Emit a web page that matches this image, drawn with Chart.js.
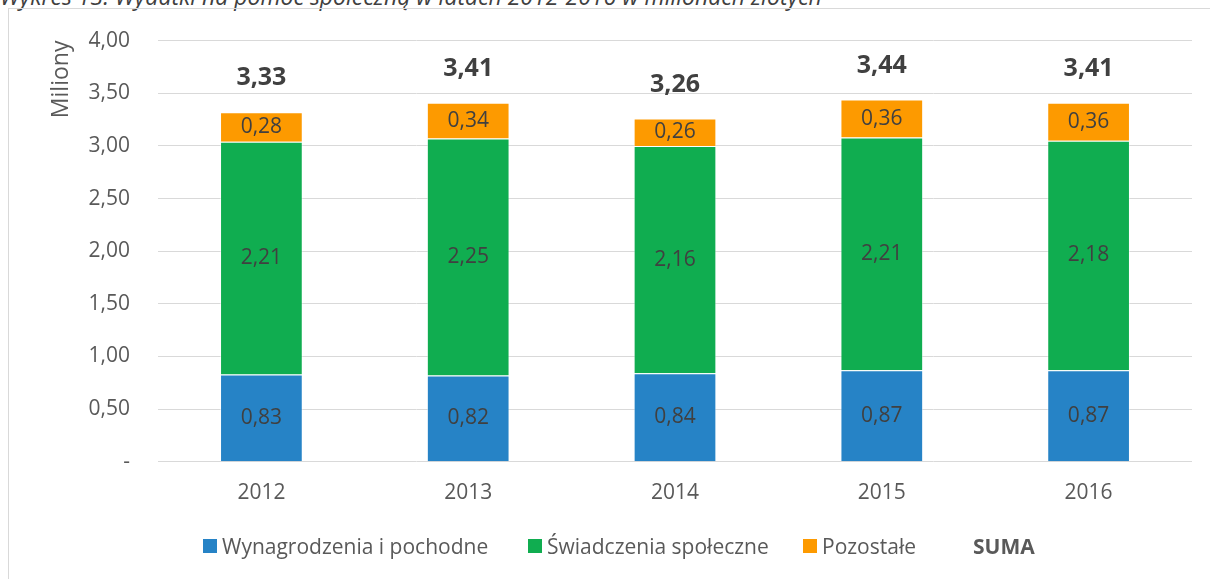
<!DOCTYPE html>
<html lang="pl">
<head>
<meta charset="utf-8">
<title>Wydatki na pomoc społeczną</title>
<script src="https://cdn.jsdelivr.net/npm/chart.js@4.4.1/dist/chart.umd.min.js"></script>
<style>
    html, body { margin: 0; padding: 0; background: #fff; overflow: hidden; }
    body { width: 1210px; height: 579px; position: relative; font-family: "Open Sans", sans-serif; }
    #caption {
        position: absolute; left: 0; top: -17px; white-space: nowrap;
        font-style: italic; font-size: 23px; line-height: 26px; color: #404040;
    }
    #frame {
        position: absolute; left: 8px; top: 8px; width: 1300px; height: 700px;
        border: 1px solid #d9d9d9; box-sizing: border-box;
    }
    #wrap { position: absolute; left: 0; top: 0; width: 1210px; height: 579px; }
    #legend {
        position: absolute; left: 0; top: 533px; width: 1210px; height: 26px;
        font-size: 21px; color: #595959;
    }
    .item { position: absolute; top: 0; height: 26px; display: flex; align-items: center; white-space: nowrap; }
    .box { width: 14px; height: 14px; margin-right: 5px; }
    .bold { font-weight: bold; }
</style>
</head>
<body>
<div id="caption">Wykres 13. Wydatki na pomoc społeczną w latach 2012-2016 w milionach złotych</div>
<div id="frame"></div>
<div id="wrap"><canvas id="chart" width="1210" height="579"></canvas></div>
<div id="legend"></div>
<script>
// Dane (w milionach)
const years = ['2012', '2013', '2014', '2015', '2016'];
const wynagrodzenia = [0.83, 0.82, 0.84, 0.87, 0.87];
const swiadczenia = [2.21, 2.25, 2.16, 2.21, 2.18];
const pozostale = [0.28, 0.34, 0.26, 0.36, 0.36];
const suma = [3.33, 3.41, 3.26, 3.44, 3.41];

const seriesNames = ['Wynagrodzenia i pochodne', 'Świadczenia społeczne', 'Pozostałe'];
const seriesColors = ['#2683c6', '#10ad50', '#fd9a00'];

function fmt(v) {
    return v.toFixed(2).replace('.', ',');
}

// Etykiety wartości wewnątrz słupków oraz sumy nad nimi
const labelsPlugin = {
    id: 'barLabels',
    afterDatasetsDraw(chart) {
        const ctx = chart.ctx;
        ctx.save();
        ctx.textAlign = 'center';
        ctx.textBaseline = 'middle';
        ctx.fillStyle = '#404040';
        ctx.font = '21px "Open Sans"';
        chart.data.datasets.forEach((ds, i) => {
            const meta = chart.getDatasetMeta(i);
            meta.data.forEach((bar, j) => {
                const mid = (bar.y + bar.base) / 2;
                ctx.fillText(fmt(ds.data[j]), bar.x, mid);
            });
        });
        ctx.font = 'bold 25px "Open Sans"';
        const top = chart.getDatasetMeta(2);
        top.data.forEach((bar, j) => {
            ctx.fillText(fmt(suma[j]), bar.x, bar.y - 34);
        });
        ctx.restore();
    }
};

const datasets = [wynagrodzenia, swiadczenia, pozostale].map((vals, i) => ({
    label: seriesNames[i],
    data: vals,
    backgroundColor: seriesColors[i],
    borderColor: 'rgba(255,255,255,0.45)',
    borderWidth: 1,
    categoryPercentage: 0.4,
    barPercentage: 1
}));

new Chart(document.getElementById('chart'), {
    type: 'bar',
    data: { labels: years, datasets: datasets },
    options: {
        responsive: false,
        animation: false,
        layout: { padding: { top: 38, right: 18, bottom: 54, left: 0 } },
        plugins: {
            legend: { display: false },
            tooltip: { enabled: false }
        },
        scales: {
            x: {
                stacked: true,
                grid: { display: false, drawTicks: false },
                border: { display: false },
                ticks: { color: '#595959', font: { family: 'Open Sans', size: 21 }, padding: 19 }
            },
            y: {
                stacked: true,
                min: 0,
                max: 4,
                afterFit(scale) { scale.width = 158; },
                grid: { color: '#d9d9d9', lineWidth: 1, drawTicks: false },
                border: { display: false },
                ticks: {
                    stepSize: 0.5,
                    padding: 28,
                    color: '#595959',
                    font: { family: 'Open Sans', size: 21 },
                    callback: v => v === 0 ? '-' : fmt(v)
                },
                title: {
                    display: true,
                    text: 'Miliony',
                    align: 'end',
                    color: '#595959',
                    font: { family: 'Open Sans', size: 23 },
                    padding: { top: 48 }
                }
            }
        }
    },
    plugins: [labelsPlugin]
});

// Legenda - pozycje elementów jak w oryginale
const legendX = [203, 528, 803, 973];
const legend = document.getElementById('legend');
seriesNames.forEach((name, i) => {
    const item = document.createElement('div');
    item.className = 'item';
    item.style.left = legendX[i] + 'px';
    const box = document.createElement('span');
    box.className = 'box';
    box.style.background = seriesColors[i];
    item.appendChild(box);
    item.appendChild(document.createTextNode(name));
    legend.appendChild(item);
});
const total = document.createElement('div');
total.className = 'item bold';
total.style.left = legendX[3] + 'px';
total.textContent = 'SUMA';
legend.appendChild(total);
</script>
</body>
</html>
